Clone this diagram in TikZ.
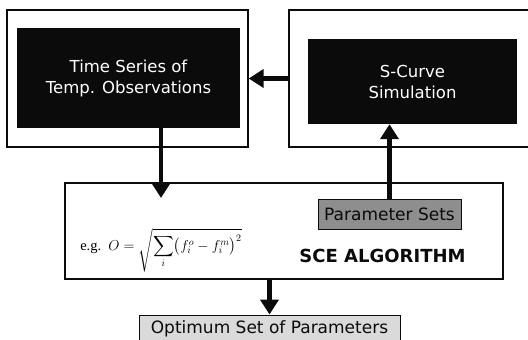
\documentclass[tikz,border=0pt]{standalone}
\usepackage{amsmath}
\usepackage{fontspec}
\setmainfont{DejaVu Sans}
\newfontfamily\serifeg{Liberation Serif}
\usetikzlibrary{arrows.meta,positioning}
\definecolor{tinta}{HTML}{0B0B0B}
\definecolor{grisosc}{HTML}{8E8E8E}
\definecolor{grisclaro}{HTML}{DADADA}
\tikzset{
  marco/.style={draw=tinta,line width=1.3pt,fill=white,inner sep=0pt},
  bloque/.style={fill=tinta,text=white,inner sep=0pt,align=center,font=\fontsize{16.5}{21}\selectfont},
  rotulo/.style={draw=tinta,line width=0.9pt,inner sep=0pt,font=\fontsize{17}{20}\selectfont,text=tinta},
  flecha/.style={draw=tinta,line width=4.5pt,-{Triangle[width=18pt,length=15pt]}},
}
\begin{document}
\begin{tikzpicture}[x=1pt,y=-1pt]
\useasboundingbox (0,0) rectangle (528,340);
\coordinate (c1) at (127.5,78.5);
\coordinate (c2) at (128.5,78);
\coordinate (c3) at (410.5,78.5);
\coordinate (c4) at (412.5,81.5);
\coordinate (c5) at (284,231);
\coordinate (c6) at (389.5,214);
\coordinate (c7) at (269.5,329);
\node[marco,minimum width=241pt,minimum height=137pt] (obsmarco) at (c1) {};
\node[bloque,minimum width=223pt,minimum height=100pt] (obsbloque) at (c2) {Time Series of\\Temp. Observations};
\node[marco,minimum width=243pt,minimum height=137pt] (simmarco) at (c3) {};
\node[bloque,minimum width=209pt,minimum height=85pt] (simbloque) at (c4) {S-Curve\\Simulation};
\node[marco,line width=1.8pt,minimum width=438pt,minimum height=96pt] (scemarco) at (c5) {};
\node[rotulo,fill=grisosc,minimum width=143pt,minimum height=30pt] (parametros) at (c6) {Parameter Sets};
\node[font=\fontsize{14.5}{16}\selectfont,inner sep=0pt] (formula) at (161,250)
  {{\serifeg e.g.}\enspace$\displaystyle O=\sqrt{\sum_i\bigl(f_i^{o}-f_i^{m}\bigr)^2}$};
\node[font=\fontsize{18}{20}\selectfont\bfseries,text=tinta] (sce) at (382.5,256) {SCE ALGORITHM};
\node[rotulo,fill=grisclaro,minimum width=261pt,minimum height=28pt] (optimo) at (c7) {Optimum Set of Parameters};
\coordinate (entrada) at (161,198);
\draw[flecha] (simmarco.west) -- (obsmarco.east);
\draw[flecha] (obsbloque.south -| entrada) -- (entrada);
\draw[flecha] (parametros.north) -- (simbloque.south -| parametros.north);
\draw[flecha] (optimo.north |- scemarco.south) -- (optimo.north);
\end{tikzpicture}
\end{document}
